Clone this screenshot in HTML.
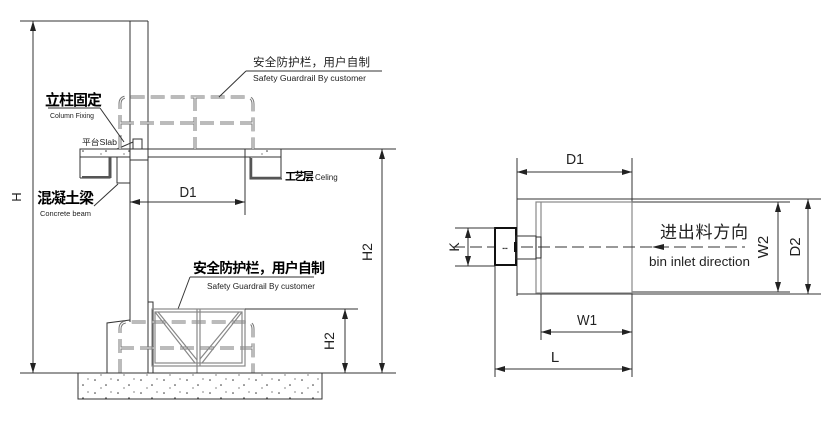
<!DOCTYPE html>
<html><head><meta charset="utf-8"><style>
html,body{margin:0;padding:0;background:#fff;width:840px;height:422px;overflow:hidden}
svg{display:block}
text{font-family:"Liberation Sans","Noto Sans CJK SC",sans-serif;fill:#222}
.l{stroke:#333;stroke-width:1;fill:none}
.g{stroke:#888;stroke-width:1.2;fill:none}
.d{stroke:#777;stroke-width:3;fill:none;stroke-dasharray:14 6}
.dw{stroke:#fff;stroke-width:1;fill:none;stroke-dasharray:14 6}
.b{font-weight:bold;fill:#000}
</style></head><body>
<svg width="840" height="422" viewBox="0 0 840 422">
<defs>
<marker id="a" viewBox="0 0 10 6" refX="10" refY="3" markerWidth="10" markerHeight="6" orient="auto-start-reverse" markerUnits="userSpaceOnUse"><path d="M0,0 L10,3 L0,6z" fill="#222"/></marker>
<pattern id="dots" width="23" height="13" patternUnits="userSpaceOnUse"><circle cx="3" cy="3" r="0.8" fill="#333"/><circle cx="14" cy="8" r="0.8" fill="#333"/><circle cx="9" cy="11" r="0.6" fill="#333"/><circle cx="19" cy="2" r="0.6" fill="#333"/></pattern>
</defs>

<!-- LEFT DRAWING -->
<line class="l" x1="20" y1="21" x2="148" y2="21"/>
<line class="l" x1="33" y1="21" x2="33" y2="373" marker-start="url(#a)" marker-end="url(#a)"/>
<text x="21" y="197" font-size="13" transform="rotate(-90 21 197)" text-anchor="middle">H</text>
<line class="l" x1="130" y1="21" x2="130" y2="322"/>
<line class="l" x1="148" y1="21" x2="148" y2="302"/>
<line class="l" x1="80" y1="149" x2="396" y2="149"/>
<rect x="80" y="149" width="50" height="8" fill="url(#dots)" stroke="#333"/>
<rect x="245" y="149" width="36" height="8" fill="url(#dots)" stroke="#333"/>
<line class="l" x1="148" y1="157" x2="245" y2="157"/>
<path class="l" d="M80 157 V178 M110 157 V178 H80"/>
<path d="M110 157 V178" stroke="#555" stroke-width="3"/>
<path d="M82 177 H110" stroke="#555" stroke-width="2"/>
<rect x="117" y="157" width="13" height="26" class="l"/>
<path class="l" d="M250 157 V179 H282 M281 157 V179"/>
<path d="M251 158 V178 H281" stroke="#555" stroke-width="2.5" fill="none"/>
<rect x="130" y="149" width="18" height="11" class="l" fill="#fff"/>
<rect x="133" y="139" width="9" height="10" class="l"/>
<path class="l" d="M117 149 L133 142"/>
<!-- upper dashed guardrail -->
<g>
<path class="d" d="M120 149 V104 Q120 97 127 97 H246 Q253 97 253 104 V149"/>
<path class="d" d="M120 123 H253"/>
<path class="d" d="M195 97 V149"/>
<path class="dw" d="M120 149 V104 Q120 97 127 97 H246 Q253 97 253 104 V149"/>
<path class="dw" d="M120 123 H253"/>
<path class="dw" d="M195 97 V149"/>
</g>
<text x="253" y="66" font-size="11.5" textLength="117" fill="#444">安全防护栏，用户自制</text>
<line class="l" x1="246" y1="71" x2="382" y2="71"/>
<line class="l" x1="246" y1="71" x2="219" y2="97"/>
<text x="253" y="81" font-size="8" textLength="113" lengthAdjust="spacingAndGlyphs">Safety Guardrail By customer</text>
<text x="45" y="105" font-size="15" class="b" textLength="57">立柱固定</text>
<line class="l" x1="48" y1="108" x2="100" y2="108"/>
<line class="l" x1="100" y1="108" x2="124" y2="142"/>
<text x="50" y="118" font-size="7" textLength="44" lengthAdjust="spacingAndGlyphs">Column Fixing</text>
<text x="82" y="145" font-size="8" textLength="35" lengthAdjust="spacingAndGlyphs">平台Slab</text>
<text x="37" y="203" font-size="15" class="b" textLength="57">混凝土梁</text>
<line class="l" x1="94" y1="206" x2="118" y2="184"/>
<text x="40" y="216" font-size="7.5" textLength="51" lengthAdjust="spacingAndGlyphs">Concrete beam</text>
<text x="285" y="180" font-size="11" class="b" textLength="29">工艺层</text>
<text x="315" y="180" font-size="8" fill="#555">Celing</text>
<line class="l" x1="245" y1="157" x2="245" y2="215"/>
<line class="l" x1="130" y1="202" x2="245" y2="202" marker-start="url(#a)" marker-end="url(#a)"/>
<text x="188" y="197" font-size="15" text-anchor="middle" textLength="17" lengthAdjust="spacingAndGlyphs">D1</text>
<line class="l" x1="382" y1="149" x2="382" y2="373" marker-start="url(#a)" marker-end="url(#a)"/>
<text x="372" y="252" font-size="14" transform="rotate(-90 372 252)" text-anchor="middle">H2</text>
<text x="193" y="273" font-size="14" class="b" textLength="132">安全防护栏，用户自制</text>
<line class="l" x1="190" y1="277" x2="314" y2="277"/>
<line class="l" x1="190" y1="277" x2="178" y2="309"/>
<text x="207" y="289" font-size="8" textLength="108" lengthAdjust="spacingAndGlyphs">Safety Guardrail By customer</text>
<rect x="148" y="302" width="5" height="71" class="l"/>
<path class="l" d="M107 373 V323 L130 320"/>
<g>
<path class="d" d="M120 373 V329 Q120 322 127 322 H246 Q253 322 253 329 V373"/>
<path class="d" d="M120 348 H253"/>
<path class="dw" d="M120 373 V329 Q120 322 127 322 H246 Q253 322 253 329 V373"/>
<path class="dw" d="M120 348 H253"/>
</g>
<rect x="152" y="309" width="93" height="57" class="g"/>
<rect x="155" y="312" width="87" height="51" class="g"/>
<line class="g" x1="197" y1="309" x2="197" y2="373"/>
<line class="g" x1="200" y1="309" x2="200" y2="366"/>
<path class="g" d="M155 312 L195 363 M158 312 L197 360 M242 312 L202 363 M239 312 L200 359"/>
<line class="l" x1="245" y1="309" x2="358" y2="309"/>
<line class="l" x1="345" y1="309" x2="345" y2="373" marker-start="url(#a)" marker-end="url(#a)"/>
<text x="334" y="341" font-size="14" transform="rotate(-90 334 341)" text-anchor="middle">H2</text>
<line class="l" x1="20" y1="373" x2="396" y2="373"/>
<rect x="78" y="373" width="244" height="26" fill="url(#dots)" stroke="#333"/>

<!-- RIGHT DRAWING -->
<line class="l" x1="517" y1="158" x2="517" y2="296"/>
<line class="l" x1="632" y1="158" x2="632" y2="377"/>
<line class="l" x1="517" y1="172" x2="632" y2="172" marker-start="url(#a)" marker-end="url(#a)"/>
<text x="575" y="164" font-size="15" text-anchor="middle" textLength="18" lengthAdjust="spacingAndGlyphs">D1</text>
<line class="l" x1="517" y1="199" x2="821" y2="199"/>
<line class="l" x1="517" y1="294" x2="821" y2="294"/>
<line class="l" x1="632" y1="202" x2="790" y2="202"/>
<line class="l" x1="632" y1="292" x2="790" y2="292"/>
<rect x="536" y="202" width="96" height="91" class="g"/>
<line class="g" x1="541" y1="202" x2="541" y2="293"/>
<line class="l" x1="778" y1="202" x2="778" y2="292" marker-start="url(#a)" marker-end="url(#a)"/>
<line class="l" x1="808" y1="199" x2="808" y2="294" marker-start="url(#a)" marker-end="url(#a)"/>
<text x="768" y="247" font-size="15" transform="rotate(-90 768 247)" text-anchor="middle">W2</text>
<text x="800" y="247" font-size="15" transform="rotate(-90 800 247)" text-anchor="middle">D2</text>
<line class="l" x1="453" y1="247" x2="745" y2="247" stroke-dasharray="12 5"/>
<path d="M652 247 L664 244 L664 250z" fill="#222"/>
<text x="660" y="238" font-size="17" textLength="88" fill="#333">进出料方向</text>
<text x="649" y="266" font-size="13" textLength="101" lengthAdjust="spacingAndGlyphs" fill="#333">bin inlet direction</text>
<rect x="495" y="228" width="21" height="37" fill="#fff" stroke="#111" stroke-width="2"/>
<text x="505" y="250" font-size="5" text-anchor="middle" fill="#111">▪▪▪</text>
<rect x="516" y="236" width="20" height="23" class="l"/>
<rect x="536" y="237" width="5" height="21" class="l"/>
<rect x="514" y="242" width="3" height="10" fill="#111"/>
<line class="l" x1="455" y1="228" x2="495" y2="228"/>
<line class="l" x1="455" y1="266" x2="495" y2="266"/>
<line class="l" x1="468" y1="228" x2="468" y2="266" marker-start="url(#a)" marker-end="url(#a)"/>
<text x="459" y="247" font-size="14" transform="rotate(-90 459 247)" text-anchor="middle">K</text>
<line class="l" x1="541" y1="294" x2="541" y2="340"/>
<line class="l" x1="541" y1="332" x2="632" y2="332" marker-start="url(#a)" marker-end="url(#a)"/>
<text x="587" y="325" font-size="15" text-anchor="middle" textLength="20" lengthAdjust="spacingAndGlyphs">W1</text>
<line class="l" x1="495" y1="266" x2="495" y2="377"/>
<line class="l" x1="495" y1="369" x2="632" y2="369" marker-start="url(#a)" marker-end="url(#a)"/>
<text x="555" y="362" font-size="15" text-anchor="middle">L</text>
</svg>
</body></html>
